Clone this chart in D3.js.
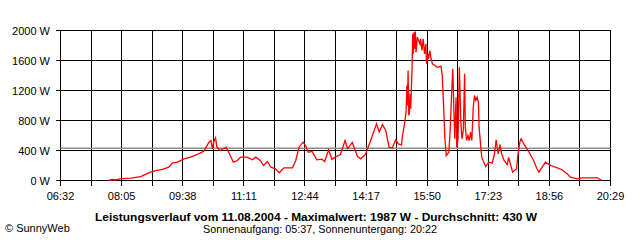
<!DOCTYPE html>
<html>
<head>
<meta charset="utf-8">
<script src="https://cdn.jsdelivr.net/npm/d3@7"></script>
<style>
  html, body { margin: 0; padding: 0; background: #fff; }
</style>
</head>
<body>
<div id="chart"></div>
<script>
// time in minutes since midnight, power in W
const minutes = [465, 471, 476, 483, 499, 514, 529, 537, 547, 557, 562, 570, 580, 590, 600, 610, 618, 621, 623, 625,
  628, 630, 635, 644, 648, 655, 661, 666, 676, 684, 689, 696, 701, 707, 712, 719, 725, 732, 745, 750,
  755, 761, 765, 769, 775, 782, 790, 794, 800, 805, 810, 818, 825, 829, 836, 844, 849, 856, 864, 873,
  877, 882, 887, 892, 897, 902, 906, 911, 912, 916, 918, 919, 920, 921, 922, 923, 924, 925, 927, 928,
  929, 930, 931, 932, 933, 935, 937, 939, 940, 942, 944, 946, 948, 949, 951, 952, 954, 956, 958, 962,
  965, 967, 971, 973, 975, 977, 979, 983, 985, 987, 989, 991, 992, 994, 995, 997, 998, 999, 1001, 1002,
  1003, 1005, 1007, 1008, 1010, 1012, 1014, 1016, 1018, 1020, 1022, 1024, 1026, 1028, 1029, 1031, 1033, 1035, 1039, 1044,
  1049, 1052, 1055, 1058, 1061, 1063, 1067, 1072, 1074, 1080, 1086, 1088, 1091, 1093, 1097, 1105, 1112, 1117, 1120, 1125,
  1130, 1138, 1148, 1155, 1163, 1168, 1178, 1186, 1209, 1216];
const watts = [0, 13, 7, 23, 33, 53, 111, 133, 147, 177, 231, 244, 289, 311, 347, 391, 511, 533, 423, 511,
  569, 444, 400, 444, 377, 244, 267, 311, 311, 276, 311, 267, 200, 253, 177, 156, 103, 169, 169, 267,
  444, 511, 467, 377, 387, 276, 284, 253, 409, 280, 311, 347, 533, 423, 507, 320, 289, 347, 533, 756,
  644, 747, 667, 444, 433, 543, 489, 476, 577, 777, 933, 1267, 1000, 1467, 867, 911, 1156, 956, 1489, 1956,
  1689, 1977, 1756, 1987, 1711, 1911, 1867, 1823, 1889, 1733, 1889, 1689, 1823, 1556, 1689, 1623, 1733, 1623, 1556, 1533,
  1511, 1511, 1524, 1400, 1000, 556, 333, 377, 667, 1111, 1489, 844, 556, 1111, 444, 556, 1023, 1511, 844, 667,
  556, 667, 1423, 711, 533, 600, 533, 644, 533, 956, 1133, 1067, 1111, 1044, 711, 511, 311, 267, 187, 244,
  231, 333, 542, 356, 480, 364, 267, 213, 307, 111, 156, 333, 511, 556, 489, 377, 267, 156, 111, 178,
  244, 200, 169, 143, 89, 44, 23, 36, 36, 0];

const yTicks = [0, 400, 800, 1200, 1600, 2000];
const timeStart = 392;   // 06:32
const timeEnd = 1229;    // 20:29
const timeStep = 46.5;
const average = 430;

const title = "Leistungsverlauf vom 11.08.2004 - Maximalwert: 1987 W - Durchschnitt: 430 W";
const subtitle = "Sonnenaufgang: 05:37, Sonnenuntergang: 20:22";
const copyright = "\u00A9 SunnyWeb";

const width = 640;
const height = 240;
const font = "'Liberation Sans', Arial, sans-serif";

const svg = d3.select("#chart")
  .append("svg")
  .attr("width", width)
  .attr("height", height)
  .style("font-family", font)
  .style("font-size", "11px");

const x = d3.scaleLinear().domain([timeStart, timeEnd]).range([60.5, 610.5]);
const y = d3.scaleLinear().domain([0, 2000]).range([180.5, 30.5]);

const xTicks = d3.range(timeStart, timeEnd + 1, timeStep);
const fmt = m => {
  const mm = Math.round(m);
  return String(Math.floor(mm / 60)).padStart(2, "0") + ":" + String(mm % 60).padStart(2, "0");
};

// Gitter
svg.append("g")
  .selectAll("line")
  .data(xTicks)
  .enter().append("line")
  .attr("x1", d => Math.round(x(d) - 0.5) + 0.5)
  .attr("x2", d => Math.round(x(d) - 0.5) + 0.5)
  .attr("y1", y(2000))
  .attr("y2", y(0) + 5)
  .attr("stroke", "#000")
  .attr("shape-rendering", "crispEdges");

svg.append("g")
  .selectAll("line")
  .data(yTicks)
  .enter().append("line")
  .attr("x1", x(timeStart) - 5)
  .attr("x2", x(timeEnd))
  .attr("y1", d => y(d))
  .attr("y2", d => y(d))
  .attr("stroke", "#000")
  .attr("shape-rendering", "crispEdges");

// Durchschnitt
svg.append("line")
  .attr("x1", x(timeStart))
  .attr("x2", x(timeEnd))
  .attr("y1", y(average))
  .attr("y2", y(average))
  .attr("stroke", "#8c8c8c")
  .attr("stroke-width", 1.6);

// Achsenbeschriftung
svg.append("g")
  .selectAll("text")
  .data(yTicks)
  .enter().append("text")
  .attr("x", 50)
  .attr("y", d => y(d) + 4)
  .attr("text-anchor", "end")
  .text(d => d + " W");

svg.append("g")
  .selectAll("text")
  .data(xTicks.filter((d, i) => i % 2 === 0))
  .enter().append("text")
  .attr("x", d => x(d))
  .attr("y", 200)
  .attr("text-anchor", "middle")
  .text(d => fmt(d));

// Leistungskurve
const line = d3.line()
  .x((d, i) => x(minutes[i]))
  .y(d => y(d));

svg.append("path")
  .datum(watts)
  .attr("d", line)
  .attr("fill", "none")
  .attr("stroke", "#ff0000")
  .attr("stroke-width", 1.3)
  .attr("stroke-linejoin", "miter");

// Titel
svg.append("text")
  .attr("x", 316)
  .attr("y", 221)
  .attr("text-anchor", "middle")
  .style("font-weight", "bold")
  .attr("textLength", 442)
  .attr("lengthAdjust", "spacingAndGlyphs")
  .text(title);

svg.append("text")
  .attr("x", 320)
  .attr("y", 233)
  .attr("text-anchor", "middle")
  .attr("textLength", 234)
  .attr("lengthAdjust", "spacingAndGlyphs")
  .text(subtitle);

svg.append("text")
  .attr("x", 5)
  .attr("y", 232)
  .text(copyright);
</script>
</body>
</html>
